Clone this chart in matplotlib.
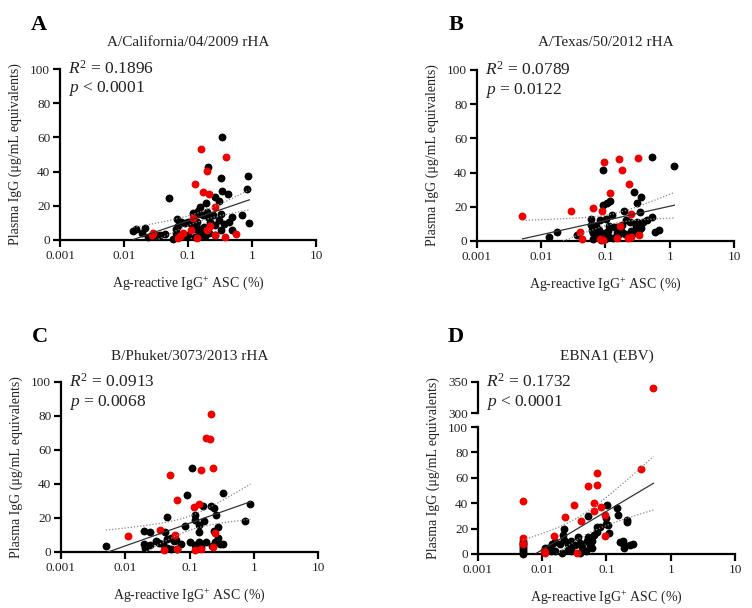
import numpy as np
import matplotlib
matplotlib.use("Agg")
import matplotlib.pyplot as plt

plt.rcParams['font.family'] = ['Liberation Serif', 'DejaVu Serif']
plt.rcParams['mathtext.fontset'] = 'custom'
plt.rcParams['mathtext.rm'] = 'Liberation Serif'
plt.rcParams['mathtext.it'] = 'Liberation Serif:italic'
plt.rcParams['mathtext.bf'] = 'Liberation Serif:bold'

# ---------------- data ----------------
titles = ["A/California/04/2009 rHA", "A/Texas/50/2012 rHA",
          "B/Phuket/3073/2013 rHA", "EBNA1 (EBV)"]
letters = ["A", "B", "C", "D"]
r2_texts = ["0.1896", "0.0789", "0.0913", "0.1732"]
p_texts = ["< 0.0001", "= 0.0122", "= 0.0068", "< 0.0001"]
x_ticks = [0.001, 0.01, 0.1, 1, 10]
x_tick_labels = ["0.001", "0.01", "0.1", "1", "10"]
y_ticks = [0, 20, 40, 60, 80, 100]
d_upper_ticks = [300, 350]

a_black_x = [0.343, 0.203, 0.328, 0.857, 0.85, 0.050, 0.343, 0.426, 0.264, 0.31, 0.19, 0.153, 0.145, 0.143,
             0.174, 0.208, 0.25, 0.33, 0.30, 0.48, 0.69, 0.91, 0.36, 0.264, 0.0665, 0.0776, 0.09, 0.1, 0.07,
             0.064, 0.064, 0.114, 0.136, 0.13, 0.155, 0.18, 0.16, 0.21, 0.15, 0.13, 0.1, 0.085, 0.07, 0.059,
             0.044, 0.036, 0.0304, 0.024, 0.021, 0.0152, 0.014, 0.019, 0.43, 0.48, 0.33, 0.26, 0.22, 0.12,
             0.2, 0.185]
a_black_y = [60.0, 42.5, 36.4, 37.4, 29.6, 24.4, 28.8, 26.9, 25.0, 22.8, 21.4, 19.1, 17.0, 15.2,
             14.6, 13.6, 14.6, 15.0, 11.7, 13.6, 14.6, 9.7, 9.2, 8.8, 12.1, 10.5, 10.0, 10.5, 8.2,
             6.5, 3.9, 8.8, 10.5, 6.5, 6.5, 7.6, 4.3, 3.9, 2.7, 1.8, 2.7, 2.2, 2.7, 0.8,
             3.3, 2.7, 2.7, 1.8, 6.8, 6.5, 5.0, 4.3, 10.5, 5.7, 5.7, 2.7, 10.5, 16.0,
             16.5, 2.5]
a_red_x = [0.16, 0.396, 0.2, 0.128, 0.174, 0.21, 0.26, 0.57, 0.38, 0.26, 0.22, 0.11, 0.085, 0.07,
           0.0286, 0.118, 0.196, 0.136, 0.027, 0.075]
a_red_y = [53.0, 48.5, 40.5, 33.0, 27.9, 27.0, 19.5, 3.5, 2.0, 3.0, 8.0, 6.0, 4.0, 1.0,
           4.0, 12.7, 5.9, 1.0, 3.0, 2.5]

b_black_x = [0.52, 1.18, 0.091, 0.275, 0.358, 0.31, 0.117, 0.105, 0.09, 0.195, 0.34, 0.52, 0.44, 0.39,
             0.31, 0.24, 0.18, 0.15, 0.135, 0.115, 0.102, 0.083, 0.06, 0.06, 0.062, 0.065, 0.072, 0.08,
             0.09, 0.1, 0.11, 0.11, 0.15, 0.165, 0.18, 0.2, 0.27, 0.33, 0.36, 0.6, 0.68, 0.036, 0.0174,
             0.0134, 0.1, 0.085, 0.065, 0.07, 0.125, 0.21, 0.25, 0.3, 0.13, 0.075]
b_black_y = [49.3, 44.0, 41.5, 28.8, 25.5, 22.0, 23.4, 22.0, 21.0, 17.5, 17.0, 14.0, 12.3, 11.3,
             11.0, 11.0, 9.6, 8.2, 8.0, 8.6, 13.0, 12.3, 13.0, 9.6, 6.7, 4.8, 5.8, 6.2,
             3.9, 4.8, 5.8, 3.0, 4.8, 3.9, 5.5, 3.9, 4.8, 6.7, 7.6, 5.5, 6.7, 3.5, 5.5,
             2.5, 1.0, 0.5, 1.0, 9.0, 15.0, 12.0, 6.0, 9.0, 2.0, 3.0]
b_red_x = [0.0051, 0.029, 0.063, 0.088, 0.117, 0.094, 0.162, 0.318, 0.182, 0.23, 0.245, 0.043, 0.04,
           0.083, 0.17, 0.33, 0.25, 0.09, 0.15, 0.22]
b_red_y = [14.8, 17.5, 19.5, 17.5, 27.9, 46.0, 47.8, 48.5, 41.5, 33.2, 15.5, 1.3, 5.2,
           1.0, 8.5, 3.3, 2.5, 0.5, 1.5, 1.5]

c_black_x = [0.109, 0.33, 0.093, 0.89, 0.215, 0.24, 0.16, 0.26, 0.12, 0.12, 0.17, 0.045, 0.085, 0.14,
             0.72, 0.28, 0.0198, 0.0245, 0.041, 0.24, 0.14, 0.005, 0.0198, 0.02, 0.024, 0.03, 0.034,
             0.039, 0.045, 0.052, 0.058, 0.045, 0.052, 0.062, 0.074, 0.1, 0.12, 0.14, 0.18, 0.22, 0.25,
             0.28, 0.33, 0.3, 0.15, 0.065]
c_black_y = [49.3, 35.0, 33.3, 28.4, 27.0, 26.0, 27.0, 22.0, 22.0, 19.0, 18.0, 20.6, 15.5, 15.7,
             18.3, 14.5, 12.1, 12.0, 12.0, 12.5, 11.5, 3.3, 5.0, 2.5, 4.0, 6.5, 5.5,
             4.5, 7.5, 8.0, 6.5, 2.5, 1.8, 7.2, 5.0, 6.0, 4.0, 6.0, 6.0, 3.5, 6.0,
             8.5, 4.5, 5.0, 3.0, 1.5]
c_red_x = [0.215, 0.18, 0.21, 0.151, 0.23, 0.049, 0.063, 0.117, 0.14, 0.011, 0.035, 0.06, 0.25, 0.23,
           0.04, 0.12, 0.15, 0.065]
c_red_y = [81.2, 67.0, 66.5, 48.4, 49.3, 45.5, 30.4, 26.5, 28.5, 9.6, 13.1, 10.0, 11.0, 3.0,
           1.0, 1.0, 2.0, 1.5]

d_black_x = [0.101, 0.145, 0.15, 0.207, 0.21, 0.1, 0.105, 0.098, 0.078, 0.072, 0.108, 0.0507, 0.165,
             0.18, 0.19, 0.23, 0.26, 0.19, 0.0111, 0.0125, 0.0142, 0.016, 0.0217, 0.019, 0.021, 0.022,
             0.025, 0.028, 0.029, 0.032, 0.036, 0.038, 0.042, 0.049, 0.052, 0.055, 0.06, 0.065, 0.07,
             0.025, 0.016, 0.0135, 0.028, 0.048, 0.038, 0.02, 0.06,
             0.005, 0.005, 0.005, 0.005, 0.005, 0.005, 0.005, 0.005]
d_black_y = [38.7, 36.0, 30.8, 26.8, 25.0, 28.5, 22.9, 24.0, 21.6, 21.5, 16.8, 30.3, 9.2,
             10.0, 6.8, 7.0, 7.5, 5.0, 4.5, 4.5, 7.5, 9.5, 19.5, 8.0, 15.0, 11.0,
             8.0, 10.0, 6.0, 7.0, 13.5, 8.5, 5.8, 10.5, 13.0, 7.0, 10.0, 15.0, 17.0,
             3.5, 2.0, 2.0, 2.0, 2.0, 1.0, 1.0, 4.5,
             0.0, 1.5, 3.0, 4.5, 6.0, 7.5, 9.0, 10.5]
d_red_x = [0.538, 0.005, 0.005, 0.005, 0.343, 0.0713, 0.0713, 0.0514, 0.063, 0.0226, 0.031, 0.064,
           0.083, 0.094, 0.04, 0.0154, 0.096, 0.0105, 0.011, 0.035]
d_red_y = [340.0, 41.8, 12.4, 8.0, 66.6, 64.0, 54.5, 53.9, 40.5, 29.5, 38.6, 33.7,
           37.3, 31.0, 26.3, 14.0, 14.5, 2.0, 0.5, 0.5]

panels = [
    (a_black_x, a_black_y, a_red_x, a_red_y),
    (b_black_x, b_black_y, b_red_x, b_red_y),
    (c_black_x, c_black_y, c_red_x, c_red_y),
    (d_black_x, d_black_y, d_red_x, d_red_y),
]

# ---------------- layout ----------------
W, H = 752, 608
fig = plt.figure(figsize=(W / 100, H / 100), dpi=100)


def fr(left, top, right, bottom):
    return [left / W, 1 - bottom / H, (right - left) / W, (bottom - top) / H]


axes_px = [(60, 69, 316, 240), (477, 70, 734, 241), (61, 382, 318, 552), (478, 427, 735, 554)]
d_upper_px = (478, 382, 735, 413)
letter_pos = [(39, 25), (456, 25), (40, 337), (456, 337)]
title_y = [43, 43, 356, 356]

BLACK = "#000000"
RED = "#f00000"
MS = 32
SPINE_W = 1.6
LABEL_FS = 10


def style_axis(ax):
    for s in ["top", "right"]:
        ax.spines[s].set_visible(False)
    for s in ["left", "bottom"]:
        ax.spines[s].set_linewidth(SPINE_W)
    ax.tick_params(axis="both", which="major", direction="out", length=5, width=SPINE_W,
                   labelsize=9.5, color="black", labelcolor="#222222", pad=2)
    ax.tick_params(axis="both", which="minor", length=0)


def regression(ax, xs, ys):
    u = np.log10(np.asarray(xs, float))
    y = np.asarray(ys, float)
    n = len(u)
    b, a = np.polyfit(u, y, 1)
    resid = y - (a + b * u)
    s = np.sqrt(np.sum(resid ** 2) / (n - 2))
    ub = u.mean()
    sxx = np.sum((u - ub) ** 2)
    t = 1.99
    uu = np.linspace(u.min(), u.max(), 100)
    yy = a + b * uu
    half = t * s * np.sqrt(1.0 / n + (uu - ub) ** 2 / sxx)
    xx = 10 ** uu
    ax.plot(xx, yy, color="#333333", lw=0.9, zorder=4)
    ax.plot(xx, yy + half, color="#888888", lw=0.9, ls=(0, (1, 1.5)), zorder=4)
    ax.plot(xx, yy - half, color="#888888", lw=0.9, ls=(0, (1, 1.5)), zorder=4)


for i, (bx, by, rx, ry) in enumerate(panels):
    ax = fig.add_axes(fr(*axes_px[i]))
    style_axis(ax)
    ax.set_xscale("log")
    ax.set_xlim(0.001, 10)
    ax.set_ylim(0, 100)
    ax.set_xticks(x_ticks)
    ax.set_xticklabels(x_tick_labels)
    ax.set_yticks(y_ticks)
    ax.set_yticklabels([str(v) for v in y_ticks])

    allx = list(bx) + list(rx)
    ally = list(by) + list(ry)
    ax.scatter(bx, by, s=MS, color=BLACK, linewidths=0, zorder=3, clip_on=False)
    rxa = np.array(rx)
    rya = np.array(ry)
    inr = rya <= 100
    ax.scatter(rxa[inr], rya[inr], s=MS, color=RED, linewidths=0, zorder=3, clip_on=False)
    regression(ax, allx, ally)

    ax.set_xlabel("Ag-reactive IgG$^{+}$ ASC (%)", fontsize=LABEL_FS, labelpad=9, color="#222222")

    L, T, R, B = axes_px[i]
    cx = (L + R) / 2
    fig.text(letter_pos[i][0] / W, 1 - letter_pos[i][1] / H, letters[i], fontsize=16,
             fontweight="bold", ha="center", va="center")
    fig.text(cx / W, 1 - title_y[i] / H, titles[i], fontsize=11, ha="center", va="center",
             color="#222222")

    if i < 3:
        top_y = T
        ylab_c = (T + B) / 2
    else:
        top_y = d_upper_px[1]
        ylab_c = (d_upper_px[1] + B) / 2
    fig.text((L + 8) / W, 1 - (top_y) / H, "$R^{2}$ = " + r2_texts[i], fontsize=12.5,
             ha="left", va="center", color="#222222")
    fig.text((L + 8) / W, 1 - (top_y + 20) / H, "$p$ " + p_texts[i], fontsize=12.5,
             ha="left", va="center", color="#222222")
    fig.text((L - 45) / W, 1 - ylab_c / H, "Plasma IgG (μg/mL equivalents)", fontsize=LABEL_FS,
             rotation=90, ha="center", va="center", color="#222222")

    if i == 3:
        axu = fig.add_axes(fr(*d_upper_px))
        style_axis(axu)
        axu.spines["bottom"].set_visible(False)
        axu.set_xscale("log")
        axu.set_xlim(0.001, 10)
        axu.set_ylim(300, 350)
        axu.set_xticks([])
        axu.set_yticks(d_upper_ticks)
        axu.set_yticklabels([str(v) for v in d_upper_ticks])
        axu.patch.set_alpha(0)
        upr = rya > 100
        axu.scatter(rxa[upr], rya[upr], s=MS, color=RED, linewidths=0, zorder=3, clip_on=False)

fig.savefig("out.png", dpi=100)
